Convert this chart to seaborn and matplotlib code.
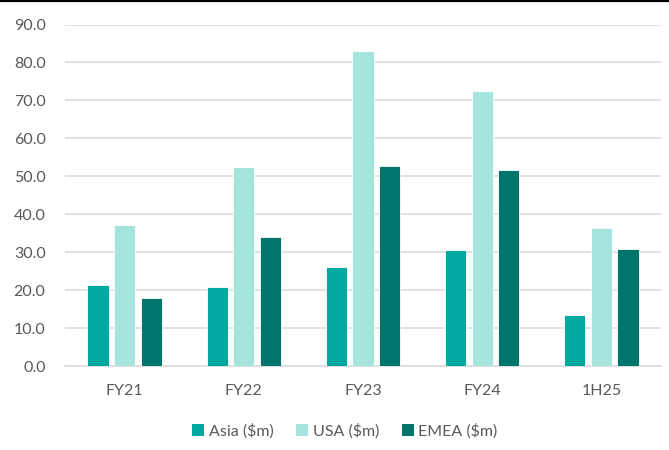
import matplotlib
matplotlib.use("Agg")
import matplotlib.pyplot as plt
from matplotlib.lines import Line2D
from matplotlib.patches import Patch
import seaborn as sns
import pandas as pd

periods = ["FY21", "FY22", "FY23", "FY24", "1H25"]
asia = [21.3, 20.9, 26.0, 30.5, 13.4]
usa = [37.1, 52.5, 83.0, 72.5, 36.4]
emea = [17.9, 33.9, 52.8, 51.7, 30.9]
series_names = ["Asia ($m)", "USA ($m)", "EMEA ($m)"]
colors = ["#00A9A0", "#A6E5DD", "#00756B"]
y_ticks = [0, 10, 20, 30, 40, 50, 60, 70, 80, 90]

rows = []
for name, vals in zip(series_names, [asia, usa, emea]):
    for p, v in zip(periods, vals):
        rows.append({"Period": p, "Region": name, "Value": v})
df = pd.DataFrame(rows)

sns.set_theme(style="white")
plt.rcParams["font.family"] = ["Lato", "DejaVu Sans"]

fig = plt.figure(figsize=(6.69, 4.5), dpi=100)
ax = fig.add_axes([65 / 669, 1 - 366 / 450, 596 / 669, 341.5 / 450])

sns.barplot(data=df, x="Period", y="Value", hue="Region", order=periods,
            hue_order=series_names, palette=colors, saturation=1,
            width=0.667, gap=0.2, edgecolor="white", linewidth=0.6,
            legend=False, ax=ax, zorder=3)

ax.set_ylim(0, 90)
ax.set_xlim(-0.5, len(periods) - 0.5)
ax.set_yticks(y_ticks)
ax.set_yticklabels([f"{t:.1f}" for t in y_ticks])
ax.yaxis.grid(True, color="#D9D9D9", linewidth=1.1, zorder=0)
ax.xaxis.grid(False)
ax.set_axisbelow(True)
for side in ["top", "right", "left"]:
    ax.spines[side].set_visible(False)
ax.spines["bottom"].set_color("#D9D9D9")
ax.spines["bottom"].set_linewidth(1.1)
ax.tick_params(axis="both", length=0, labelsize=11.5, labelcolor="#595959")
ax.tick_params(axis="y", pad=14)
ax.tick_params(axis="x", pad=13)
ax.set_xlabel("")
ax.set_ylabel("")

handles = [Patch(facecolor=c, edgecolor="none") for c in colors]
fig.legend(handles, series_names, loc="center", ncol=3,
           bbox_to_anchor=(345 / 669, 1 - 431 / 450), frameon=False,
           fontsize=11.5, labelcolor="#595959", handlelength=0.75,
           handleheight=0.75, handletextpad=0.3, columnspacing=1.4)

# thin dark rule along the top edge
fig.add_artist(Line2D([0, 1], [0.998, 0.998], transform=fig.transFigure,
                      color="black", linewidth=1.6))

fig.savefig("out.png", dpi=100)
